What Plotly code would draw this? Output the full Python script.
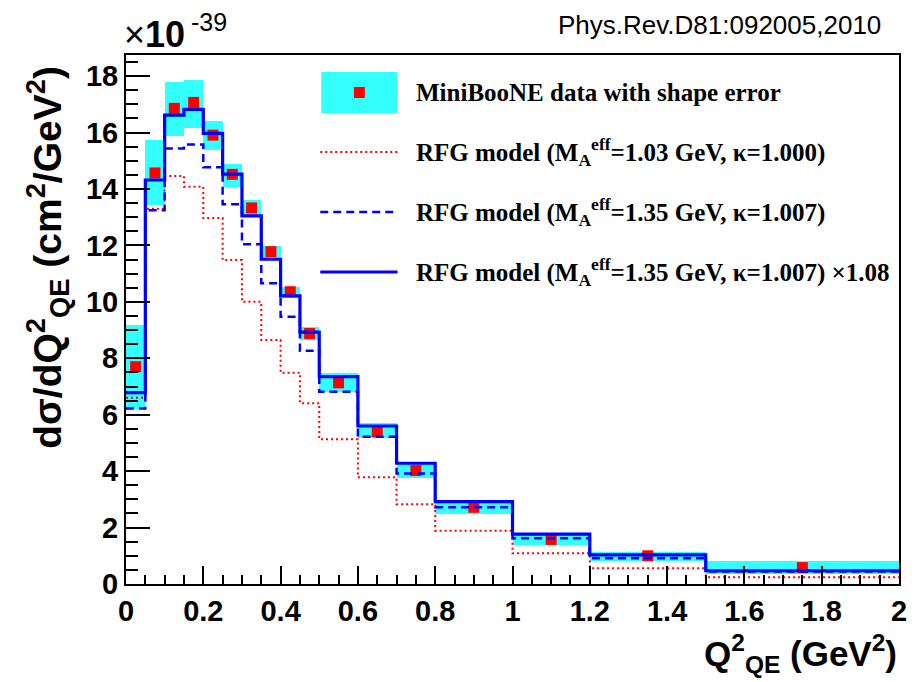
import plotly.graph_objects as go

# ---------------- data ----------------
bin_edges = [0, 0.05, 0.1, 0.15, 0.2, 0.25, 0.3, 0.35, 0.4, 0.45, 0.5,
             0.6, 0.7, 0.8, 1.0, 1.2, 1.5, 2.0]
data_xs = [7.70, 14.57, 16.86, 17.07, 15.91, 14.52, 13.33, 11.78, 10.36, 8.88,
           7.13, 5.40, 4.02, 2.72, 1.58, 1.00, 0.58]
band_hi = [9.18, 15.73, 17.80, 17.88, 16.42, 14.87, 13.60, 11.98, 10.54, 9.12,
           7.47, 5.69, 4.33, 2.98, 1.82, 1.14, 0.82]
band_lo = [6.19, 13.43, 15.88, 16.18, 15.38, 14.08, 13.08, 11.54, 10.12, 8.65,
           6.81, 5.16, 3.74, 2.47, 1.38, 0.82, 0.34]
rfg_103 = [6.60, 13.30, 14.46, 14.08, 12.97, 11.48, 10.00, 8.65, 7.49, 6.41,
           5.13, 3.78, 2.83, 1.89, 1.09, 0.56, 0.24]
rfg_135 = [6.22, 13.25, 15.44, 15.58, 14.77, 13.46, 12.04, 10.66, 9.47, 8.27,
           6.81, 5.22, 3.92, 2.72, 1.62, 0.91, 0.44]
rfg_135_x108 = [6.78, 14.32, 16.62, 16.82, 15.97, 14.53, 13.05, 11.51, 10.21, 8.93,
                7.35, 5.60, 4.28, 2.92, 1.77, 1.03, 0.47]
x_ticks = [0, 0.2, 0.4, 0.6, 0.8, 1.0, 1.2, 1.4, 1.6, 1.8, 2.0]
x_tick_labels = ["0", "0.2", "0.4", "0.6", "0.8", "1", "1.2", "1.4", "1.6", "1.8", "2"]
y_ticks = [0, 2, 4, 6, 8, 10, 12, 14, 16, 18]
y_tick_labels = ["0", "2", "4", "6", "8", "10", "12", "14", "16", "18"]
legend_labels = [
    "MiniBooNE data with shape error",
    "RFG model (M<sub>A</sub><sup>eff</sup>=1.03 GeV, κ=1.000)",
    "RFG model (M<sub>A</sub><sup>eff</sup>=1.35 GeV, κ=1.007)",
    "RFG model (M<sub>A</sub><sup>eff</sup>=1.35 GeV, κ=1.007) ×1.08",
]

# ---------------- layout geometry ----------------
W, H = 919, 682
L, R, T, B = 126, 906, 55, 584
PW, PH = R - L, B - T


def px(x):
    return (x - L) / PW


def py(y):
    return (B - y) / PH


CYAN = "#33ffff"
RED = "#ff0000"
BLUE = "#0000ff"

centers = [(a + b) / 2 for a, b in zip(bin_edges[:-1], bin_edges[1:])]
widths = [b - a for a, b in zip(bin_edges[:-1], bin_edges[1:])]

fig = go.Figure()

fig.add_trace(go.Bar(
    x=centers, y=[h - l for h, l in zip(band_hi, band_lo)], base=band_lo,
    width=widths, marker=dict(color=CYAN, line=dict(width=0)),
    hoverinfo="skip", showlegend=False))

fig.add_trace(go.Scatter(
    x=centers, y=data_xs, mode="markers",
    marker=dict(symbol="square", size=11, color=RED, line=dict(width=0)),
    hoverinfo="skip", showlegend=False))


def step(vals, color, width, dash):
    fig.add_trace(go.Scatter(
        x=bin_edges, y=vals + [vals[-1]], mode="lines", line_shape="hv",
        line=dict(color=color, width=width, dash=dash),
        hoverinfo="skip", showlegend=False))


step(rfg_103, RED, 2, "2px,3px")
step(rfg_135, BLUE, 2.5, "8px,5px")
step(rfg_135_x108, BLUE, 3.2, "solid")

tickfont = dict(family="Liberation Sans", size=29, color="black", weight="bold")

fig.update_layout(
    width=W, height=H,
    margin=dict(l=L, r=W - R, t=T, b=H - B, pad=0),
    paper_bgcolor="white", plot_bgcolor="white",
    barmode="overlay", bargap=0,
    xaxis=dict(range=[0, 2], tickvals=x_ticks, ticktext=x_tick_labels,
               ticks="inside", ticklen=18, tickwidth=1.5, tickcolor="black",
               minor=dict(dtick=0.05, tick0=0, ticks="inside", ticklen=9,
                          tickwidth=1.5, tickcolor="black"),
               showline=True, linecolor="black", linewidth=2, mirror=True,
               showgrid=False, zeroline=False, tickfont=tickfont),
    yaxis=dict(range=[0, 18.75], tickvals=y_ticks, ticktext=y_tick_labels,
               ticks="inside", ticklen=24, tickwidth=1.5, tickcolor="black",
               minor=dict(dtick=0.5, tick0=0, ticks="inside", ticklen=12,
                          tickwidth=1.5, tickcolor="black"),
               showline=True, linecolor="black", linewidth=2, mirror=True,
               showgrid=False, zeroline=False, tickfont=tickfont),
)

ann_font = dict(family="Liberation Sans", color="black", weight="bold")
fig.add_annotation(
    text="dσ/dQ<sup>2</sup><sub>QE</sub> (cm<sup>2</sup>/GeV<sup>2</sup>)",
    xref="paper", yref="paper", x=px(47), y=py(257), textangle=-90,
    xanchor="center", yanchor="middle", showarrow=False,
    font=dict(size=39, **ann_font))
fig.add_annotation(
    text="Q<sup>2</sup><sub>QE</sub> (GeV<sup>2</sup>)",
    xref="paper", yref="paper", x=px(906), y=py(653),
    xanchor="right", yanchor="middle", showarrow=False,
    font=dict(size=35, **ann_font))
fig.add_annotation(
    text="×<b>10</b>",
    xref="paper", yref="paper", x=px(122), y=py(34),
    xanchor="left", yanchor="middle", showarrow=False,
    font=dict(size=36, family="Liberation Sans", color="black"))
fig.add_annotation(
    text="-39",
    xref="paper", yref="paper", x=px(190), y=py(22),
    xanchor="left", yanchor="middle", showarrow=False,
    font=dict(size=25, family="Liberation Sans", color="black"))
fig.add_annotation(
    text="Phys.Rev.D81:092005,2010",
    xref="paper", yref="paper", x=px(890), y=py(25),
    xanchor="right", yanchor="middle", showarrow=False,
    font=dict(size=26, family="Liberation Sans", color="black"))

# ---------------- legend ----------------
leg_rows = [92, 152, 212, 272]
fig.add_shape(type="rect", xref="paper", yref="paper",
              x0=px(323), x1=px(400), y0=py(113), y1=py(72),
              fillcolor=CYAN, line=dict(width=0))
fig.add_shape(type="rect", xref="paper", yref="paper",
              x0=px(356), x1=px(367), y0=py(98), y1=py(87),
              fillcolor=RED, line=dict(width=0))
for yy, col, w, d in [(leg_rows[1], RED, 2, "2px,3px"),
                      (leg_rows[2], BLUE, 2.5, "8px,5px"),
                      (leg_rows[3], BLUE, 3.2, "solid")]:
    fig.add_shape(type="line", xref="paper", yref="paper",
                  x0=px(322), x1=px(400), y0=py(yy), y1=py(yy),
                  line=dict(color=col, width=w, dash=d))
for yy, lab in zip(leg_rows, legend_labels):
    fig.add_annotation(text=lab, xref="paper", yref="paper",
                       x=px(417), y=py(yy), xanchor="left", yanchor="middle",
                       showarrow=False,
                       font=dict(family="Liberation Serif", size=25,
                                 color="black", weight="bold"))

fig.write_html("out.html")
